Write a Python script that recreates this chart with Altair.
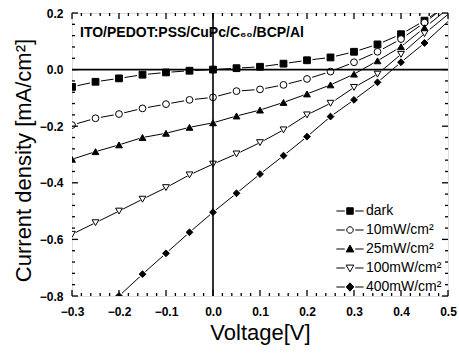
import altair as alt
import pandas as pd

# ---------------- data ----------------
voltage = [-0.30, -0.25, -0.20, -0.15, -0.10, -0.05, 0.00, 0.05, 0.10,
           0.15, 0.20, 0.25, 0.30, 0.35, 0.40, 0.45, 0.50]
dark = [-0.061, -0.043, -0.031, -0.018, -0.010, -0.004, 0.000, 0.005, 0.010,
        0.021, 0.033, 0.043, 0.063, 0.089, 0.125, 0.173, 0.230]
p10 = [-0.196, -0.172, -0.157, -0.137, -0.122, -0.107, -0.098, -0.076, -0.070,
       -0.054, -0.033, -0.007, 0.026, 0.063, 0.108, 0.166, 0.230]
p25 = [-0.317, -0.290, -0.266, -0.240, -0.225, -0.204, -0.188, -0.164, -0.143,
       -0.116, -0.086, -0.054, -0.016, 0.031, 0.081, 0.148, 0.215]
p100 = [-0.582, -0.541, -0.500, -0.458, -0.417, -0.372, -0.334, -0.298, -0.258,
        -0.213, -0.160, -0.119, -0.063, -0.016, 0.054, 0.127, 0.195]
p400 = [-0.950, -0.875, -0.800, -0.723, -0.649, -0.575, -0.504, -0.437, -0.369,
        -0.304, -0.237, -0.166, -0.107, -0.045, 0.026, 0.094, 0.170]

series_names = ["dark", "10mW/cm²", "25mW/cm²", "100mW/cm²", "400mW/cm²"]
series_values = [dark, p10, p25, p100, p400]
fills = ["black", "white", "black", "white", "black"]
shapes = ["square", "circle", "triangle-up", "triangle-down", "diamond"]
legend_paths = [
    "M-4.2,0H-1.6M1.6,0H4.2M-1,-1H1V1H-1Z",
    "M-4.2,0H-1.6M1.6,0H4.2M-1,0A1,1,0,1,1,1,0A1,1,0,1,1,-1,0Z",
    "M-4.2,0H-1.6M1.6,0H4.2M0,-1.2L1.2,0.9H-1.2Z",
    "M-4.2,0H-1.6M1.6,0H4.2M0,1.2L1.2,-0.9H-1.2Z",
    "M-4.2,0H-1.6M1.6,0H4.2M0,-1.3L1.15,0L0,1.3L-1.15,0Z",
]

x_major = [-0.3, -0.2, -0.1, 0.0, 0.1, 0.2, 0.3, 0.4, 0.5]
x_minor = [-0.28, -0.26, -0.24, -0.22, -0.18, -0.16, -0.14, -0.12, -0.08, -0.06,
           -0.04, -0.02, 0.02, 0.04, 0.06, 0.08, 0.12, 0.14, 0.16, 0.18, 0.22,
           0.24, 0.26, 0.28, 0.32, 0.34, 0.36, 0.38, 0.42, 0.44, 0.46, 0.48]
y_major = [-0.8, -0.6, -0.4, -0.2, 0.0, 0.2]
y_minor = [-0.76, -0.72, -0.68, -0.64, -0.56, -0.52, -0.48, -0.44, -0.36, -0.32,
           -0.28, -0.24, -0.16, -0.12, -0.08, -0.04, 0.04, 0.08, 0.12, 0.16]

title_text = "ITO/PEDOT:PSS/CuPc/C₆₀/BCP/Al"

# ---------------- tables ----------------
rows = []
for name, vals in zip(series_names, series_values):
    for v, j in zip(voltage, vals):
        rows.append({"V": v, "J": j, "series": name})
df = pd.DataFrame(rows)

W, H = 376, 283
FONT = "Liberation Sans"

xs = alt.Scale(domain=[-0.3, 0.5], nice=False, zero=False)
ys = alt.Scale(domain=[-0.8, 0.2], nice=False, zero=False)

x_enc = alt.X("V:Q", scale=xs, title="Voltage[V]",
              axis=alt.Axis(values=x_major, format=".1f", ticks=False, domain=False,
                            grid=False, labelFlush=False, labelFontWeight="bold",
                            labelFontSize=12, labelPadding=10, labelFont=FONT,
                            labelColor="black", titleFont=FONT, titleFontSize=22,
                            titleFontWeight="normal", titleColor="black", titlePadding=5))
y_enc = alt.Y("J:Q", scale=ys, title="Current density [mA/cm²]",
              axis=alt.Axis(values=y_major, format=".1f", ticks=False, domain=False,
                            grid=False, labelFlush=False, labelFontWeight="bold",
                            labelFontSize=12, labelPadding=9, labelFont=FONT,
                            labelColor="black", titleFont=FONT, titleFontSize=22,
                            titleFontWeight="normal", titleColor="black", titlePadding=4,
                            titleY=147))

base = alt.Chart(df)

lines = base.mark_line(color="black", strokeWidth=1, clip=True).encode(
    x=x_enc, y=y_enc, detail="series:N", order="V:Q")

pts_df = df[df["V"] < 0.48]
shape_scale = alt.Scale(domain=series_names, range=shapes)
fill_scale = alt.Scale(domain=series_names, range=fills)

halo = alt.Chart(pts_df).mark_point(filled=True, color="white", size=120, clip=True,
                                     strokeWidth=0, opacity=1).encode(
    x="V:Q", y="J:Q",
    shape=alt.Shape("series:N", scale=shape_scale, legend=None))

pts = alt.Chart(pts_df).mark_point(size=46, stroke="black", strokeWidth=1,
                                    opacity=1, clip=True).encode(
    x="V:Q", y="J:Q",
    shape=alt.Shape("series:N", scale=shape_scale, legend=None),
    fill=alt.Fill("series:N", scale=fill_scale, legend=None))

leg_legend = alt.Legend(title=None, orient="none", legendX=271, legendY=191,
                        padding=0, labelFont=FONT, labelFontSize=14,
                        labelColor="black", labelOffset=9, rowPadding=5,
                        symbolSize=42, symbolStrokeColor="black",
                        symbolStrokeWidth=1, symbolOpacity=1)
leg = base.transform_filter("false").mark_point(opacity=1).encode(
    x="V:Q", y="J:Q",
    shape=alt.Shape("series:N", scale=alt.Scale(domain=series_names, range=legend_paths),
                    legend=leg_legend),
    fill=alt.Fill("series:N", scale=fill_scale, legend=leg_legend),
    stroke=alt.Stroke("series:N",
                      scale=alt.Scale(domain=series_names, range=["black"] * 5),
                      legend=leg_legend))

label = alt.Chart(pd.DataFrame({"t": [title_text]})).mark_text(
    align="left", baseline="alphabetic", font=FONT, fontSize=14,
    fontWeight="bold", color="black").encode(
    text="t:N", x=alt.value(8), y=alt.value(24))

hzero = alt.Chart(pd.DataFrame({"z": [0.0]})).mark_rule(color="black", strokeWidth=1.6).encode(
    y=alt.Y("z:Q"))
vzero = alt.Chart(pd.DataFrame({"z": [0.0]})).mark_rule(color="black", strokeWidth=1.6).encode(
    x=alt.X("z:Q"))

dfx_maj = pd.DataFrame({"V": x_major})
dfx_min = pd.DataFrame({"V": x_minor})
dfy_maj = pd.DataFrame({"J": y_major})
dfy_min = pd.DataFrame({"J": y_minor})


def xt(d, y1, y2):
    return alt.Chart(d).mark_rule(color="black", strokeWidth=1.3).encode(
        x="V:Q", y=alt.value(y1), y2=alt.value(y2))


def yt(d, x1, x2):
    return alt.Chart(d).mark_rule(color="black", strokeWidth=1.3).encode(
        y="J:Q", x=alt.value(x1), x2=alt.value(x2))


ticks = [
    xt(dfx_maj, H, H - 6), xt(dfx_min, H, H - 3),
    xt(dfx_maj, 0, 6), xt(dfx_min, 0, 3),
    yt(dfy_maj, 0, 6), yt(dfy_min, 0, 3),
    yt(dfy_maj, W, W - 6), yt(dfy_min, W, W - 3),
]

chart = alt.layer(lines, halo, pts, leg, hzero, vzero, label, *ticks).resolve_scale(
    shape="independent", fill="independent", stroke="independent"
).properties(
    width=W, height=H,
    autosize=alt.AutoSizeParams(type="none"),
    padding={"left": 72, "top": 13, "right": 11, "bottom": 59},
).configure_view(stroke="black", strokeWidth=2).configure(background="white")

chart.save("out.html", embed_options={"renderer": "svg", "actions": False})
